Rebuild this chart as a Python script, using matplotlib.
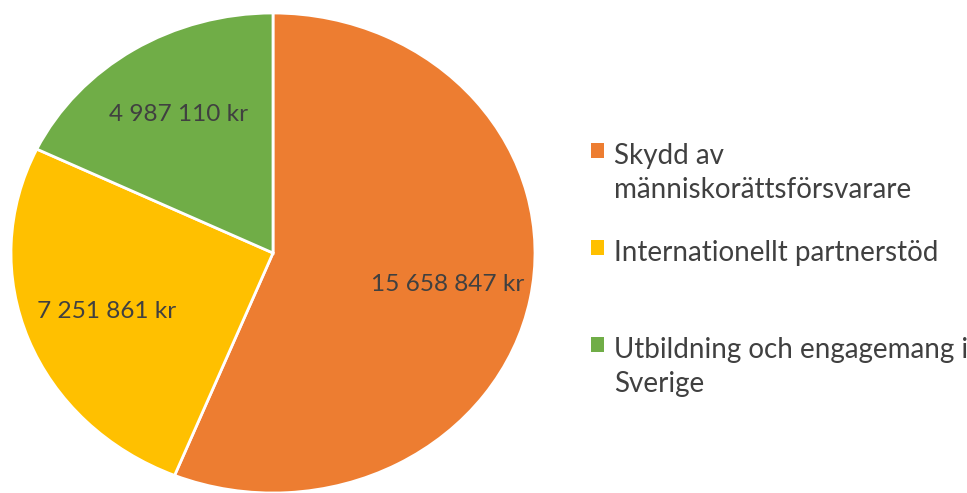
import matplotlib
matplotlib.use("Agg")
import matplotlib.pyplot as plt
from matplotlib.patches import Patch

categories = ["Skydd av\nmänniskorättsförsvarare",
              "Internationellt partnerstöd\n",
              "Utbildning och engagemang i\nSverige"]
values = [15658847, 7251861, 4987110]
colors = ["#ED7D31", "#FFC000", "#70AD47"]

plt.rcParams['font.family'] = ['Lato', 'DejaVu Sans']
text_color = "#404040"

fig = plt.figure(figsize=(9.67, 4.93), dpi=100)
ax = fig.add_axes([11/967, 0/493, 524/967, 480/493])

total = sum(values)

def fmt(pct):
    v = int(round(pct * total / 100.0))
    return f"{v:,}".replace(",", " ") + " kr"

wedges, texts, autotexts = ax.pie(
    values, colors=colors, startangle=90, counterclock=False,
    autopct=fmt, pctdistance=0.68,
    wedgeprops=dict(edgecolor="white", linewidth=2),
    textprops=dict(color=text_color, fontsize=17.6))
ax.set_aspect('auto')
ax.set_xlim(-1, 1)
ax.set_ylim(-1, 1)
ax.axis('off')

handles = [Patch(facecolor=c, edgecolor='none') for c in colors]
leg = fig.legend(handles, categories, loc='upper left',
                 bbox_to_anchor=(591/967, 1 - 143/493),
                 frameon=False, fontsize=20, handlelength=0.47,
                 handleheight=0.47, handletextpad=0.36, labelspacing=1.35,
                 borderpad=0, borderaxespad=0)
for t in leg.get_texts():
    t.set_color(text_color)
    t.set_linespacing(1.36)
for col in leg._legend_handle_box.get_children():
    for item in col.get_children():
        item.align = "top"

fig.savefig("out.png", dpi=100)
